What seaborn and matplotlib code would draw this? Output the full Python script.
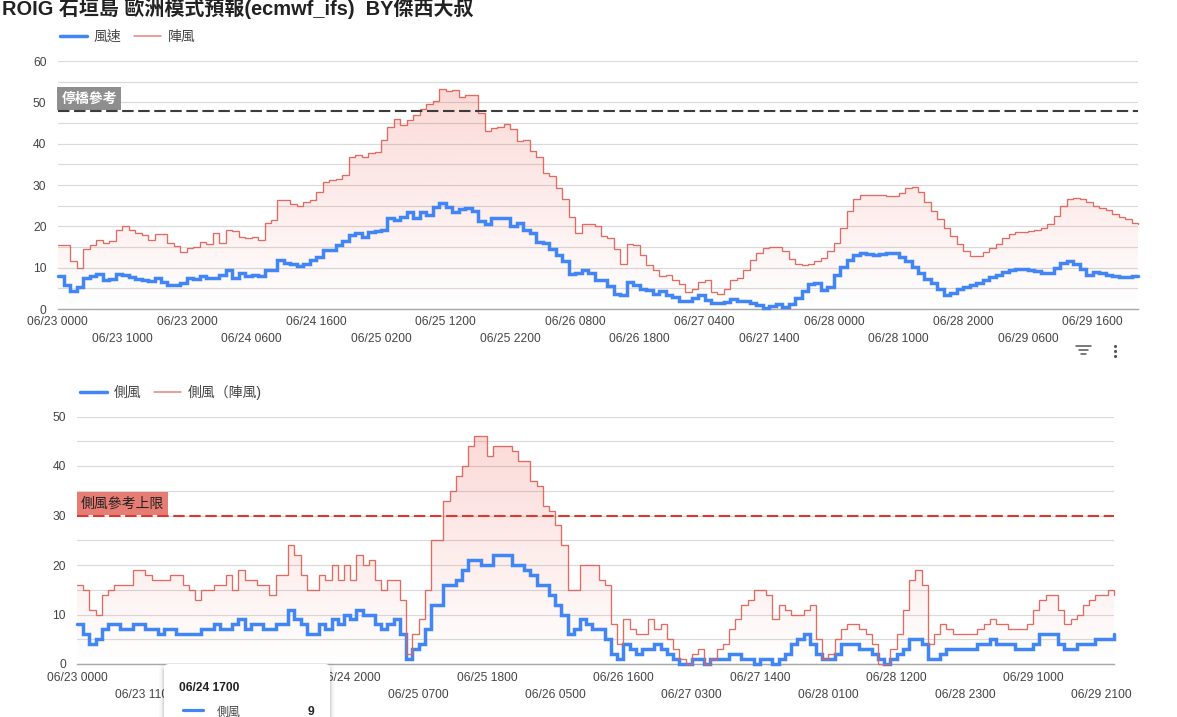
import numpy as np
import pandas as pd
import matplotlib
matplotlib.use("Agg")
import matplotlib.pyplot as plt
from matplotlib.lines import Line2D
from matplotlib.patches import FancyBboxPatch
import seaborn as sns

# Hourly forecast from 06/23 0000 to 06/29 2300
wind_speed = [
    7.9,5.9,4.3,5.3,7.5,8.1,8.4,7.1,7.3,8.4,
    8.2,7.7,7.3,6.9,6.7,7.5,6.5,5.8,5.8,6.3,
    7.4,7.3,7.9,7.5,7.5,8.2,9.5,7.4,8.7,8.1,
    8.2,8.0,9.4,9.4,11.8,11.1,11.0,10.3,10.9,11.8,
    12.7,14.2,14.2,15.4,16.4,18.0,18.5,17.5,18.6,18.8,
    19.2,21.9,21.6,22.2,23.4,22.0,23.5,22.7,24.6,25.6,
    24.6,23.5,24.1,24.4,23.7,21.3,20.6,21.9,21.9,21.9,
    20.2,20.7,19.0,18.4,16.3,16.0,14.4,13.0,11.5,8.5,
    8.7,9.4,8.7,7.1,6.9,5.5,3.7,3.5,6.5,5.7,
    4.8,4.5,3.6,4.3,3.5,3.0,2.0,2.0,2.6,3.4,
    2.1,1.5,1.5,1.7,2.3,1.9,1.9,1.5,1.0,0.3,
    0.8,1.1,0.6,1.2,2.7,4.3,6.0,6.2,4.5,5.3,
    8.2,10.2,11.9,13.1,13.5,13.2,13.0,13.2,13.5,13.5,
    12.7,11.5,10.2,8.6,7.3,6.3,4.8,3.5,3.9,4.9,
    5.3,5.9,6.4,6.9,7.7,8.2,9.0,9.4,9.7,9.7,
    9.5,9.1,8.8,8.7,9.8,11.1,11.6,10.8,9.7,8.3,
    9.0,8.7,8.2,8.0,7.8,7.8,8.0,8.0,
]
wind_gust = [
    15.5,15.5,11.5,10.0,14.5,15.5,16.8,16.0,16.5,19.0,
    20.0,19.2,18.5,18.0,16.8,18.2,18.2,16.0,15.2,13.8,
    14.8,15.0,16.2,15.8,18.3,16.0,19.0,18.8,17.4,17.2,
    17.4,16.8,20.8,21.5,26.3,26.3,25.5,25.0,25.8,26.3,
    28.2,30.7,31.2,31.4,32.5,36.8,37.2,36.8,37.8,38.0,
    41.0,44.0,46.0,44.5,45.8,47.0,48.5,49.6,50.3,53.2,
    52.7,52.9,51.2,51.7,51.7,47.4,43.0,43.8,44.0,44.7,
    43.6,40.7,41.0,38.3,36.8,32.9,32.2,29.3,26.5,22.2,
    18.4,20.6,20.6,20.2,17.6,17.2,14.4,11.0,15.7,15.6,
    13.1,10.6,9.5,8.0,8.3,6.9,6.1,4.2,4.8,6.5,
    7.0,4.2,3.6,4.8,7.0,7.4,9.4,11.8,13.5,14.8,
    15.1,15.1,14.0,12.2,11.0,10.6,10.8,11.5,12.3,14.0,
    16.0,19.5,23.6,26.7,27.7,27.7,27.6,27.5,27.3,27.3,
    28.0,29.3,29.5,28.2,26.0,23.8,21.7,19.5,17.6,15.7,
    14.0,12.9,12.9,13.7,14.7,15.8,17.2,18.1,18.6,18.7,
    18.9,19.1,19.5,20.5,22.5,25.0,26.7,26.9,26.5,26.0,
    25.0,24.4,23.9,23.0,22.3,21.7,20.8,20.5,
]
cross_wind = [
    8,6,4,5,7,8,8,7,7,8,
    8,7,7,6,7,7,6,6,6,6,
    7,7,8,7,7,8,9,7,8,8,
    7,7,8,8,11,9,8,6,6,8,
    7,9,8,10,9,11,10,10,8,7,
    8,9,6,1,3,4,7,12,12,16,
    16,17,19,21,21,20,20,22,22,22,
    20,20,19,18,16,16,14,12,10,6,
    7,9,8,7,7,5,2,1,4,3,
    2,3,3,4,3,2,1,0,0,1,
    1,0,1,1,1,2,2,1,1,0,
    1,1,0,1,2,4,5,6,4,2,
    1,1,2,4,4,4,3,3,2,1,
    0,1,2,3,5,5,4,1,1,2,
    3,3,3,3,3,4,4,5,4,4,
    4,3,3,3,4,6,6,6,4,3,
    3,4,4,4,5,5,5,6,
]
cross_gust = [
    16,15,11,10,14,15,16,16,16,19,
    19,18,17,17,17,18,18,16,15,13,
    15,15,16,16,18,15,19,17,17,16,
    16,14,18,18,24,22,18,15,15,18,
    17,20,17,20,17,22,20,21,17,15,
    17,17,13,2,6,9,15,25,25,33,
    35,38,40,44,46,46,42,44,44,44,
    43,41,41,37,36,32,31,28,24,15,
    15,20,20,20,17,16,8,4,9,7,
    6,6,9,7,8,5,3,1,0,2,
    3,0,1,3,4,7,9,12,13,15,
    15,14,9,12,11,10,10,11,12,5,
    1,2,5,7,8,8,7,6,4,0,
    0,3,6,11,17,19,16,4,6,8,
    7,6,6,6,6,7,8,9,8,8,
    7,7,7,8,11,13,14,14,11,8,
    9,10,12,13,14,14,15,14,
]
hours = np.arange(len(wind_speed))

top_tick_labels = [
    "06/23 0000", "06/23 1000", "06/23 2000", "06/24 0600", "06/24 1600", "06/25 0200",
    "06/25 1200", "06/25 2200", "06/26 0800", "06/26 1800", "06/27 0400", "06/27 1400",
    "06/28 0000", "06/28 1000", "06/28 2000", "06/29 0600", "06/29 1600",
]
bottom_tick_labels = [
    "06/23 0000", "06/23 1100", "06/23 2200", "06/24 0900", "06/24 2000", "06/25 0700",
    "06/25 1800", "06/26 0500", "06/26 1600", "06/27 0300", "06/27 1400", "06/28 0100",
    "06/28 1200", "06/28 2300", "06/29 1000", "06/29 2100",
]

BLUE = "#4285f4"
RED = "#e0645a"
W, H = 1177, 717

sns.set_theme(style="white")
plt.rcParams["font.family"] = ["Liberation Sans", "Noto Sans CJK TC"]

fig = plt.figure(figsize=(W / 100, H / 100), dpi=100, facecolor="white")


def panel_axes(left, right, top, bottom):
    return fig.add_axes([left / W, 1 - bottom / H, (right - left) / W, (bottom - top) / H])


def draw_panel(ax, speed, gust, names, ymax, tick_step, tick_labels, limit, limit_text,
               limit_color, box_color, text_color, text_weight, legend_xy, x_pad):
    frame = pd.DataFrame({"hour": hours, "speed": speed, "gust": gust})

    # Pink gradient under the gust curve, fading to white at zero
    area = ax.fill_between(hours, gust, 0, step="post", color="none", linewidth=0)
    top = max(gust)
    alpha = np.linspace(0.20, 0.0, 256)[:, None]
    rgba = np.zeros((256, 1, 4))
    rgba[..., 0], rgba[..., 1], rgba[..., 2] = 234 / 255, 67 / 255, 53 / 255
    rgba[..., 3] = alpha
    img = ax.imshow(rgba, extent=(0, hours[-1], 0, top), aspect="auto", origin="upper",
                    zorder=1.5, interpolation="bilinear")
    img.set_clip_path(area.get_paths()[0], ax.transData)

    sns.lineplot(data=frame, x="hour", y="speed", ax=ax, color=BLUE, linewidth=2.5,
                 drawstyle="steps-post", label=names[0], errorbar=None, zorder=3,
                 solid_joinstyle="miter", clip_on=False)
    sns.lineplot(data=frame, x="hour", y="gust", ax=ax, color=RED, linewidth=0.95,
                 drawstyle="steps-post", label=names[1], errorbar=None, zorder=3.2,
                 alpha=0.95, solid_joinstyle="miter", clip_on=False)

    ax.axhline(limit, color=limit_color, linewidth=1.5, dashes=(5.5, 2.2), zorder=3.5)
    ax.annotate(limit_text, xy=(0, limit), xytext=(4 * 0.72, 3.7), textcoords="offset points",
                ha="left", va="bottom", fontsize=10, color=text_color, fontweight=text_weight,
                bbox=dict(boxstyle="square,pad=0.3", facecolor=box_color, edgecolor="none"),
                zorder=3.3)

    ax.set_xlim(0, hours[-1])
    ax.set_ylim(0, ymax)
    ax.set_xlabel("")
    ax.set_ylabel("")
    ticks = np.arange(0, hours[-1] + 1, tick_step)
    ax.set_xticks(ticks)
    ax.set_xticklabels([t if i % 2 == 0 else "\n" + t for i, t in enumerate(tick_labels)],
                       fontsize=8.64, color="#444444", linespacing=1.55)
    yticks = np.arange(0, ymax + 1, 5)
    ax.set_yticks(yticks)
    ax.set_yticklabels([str(v) if v % 10 == 0 else "" for v in yticks],
                       fontsize=8.64, color="#444444")
    ax.tick_params(axis="x", length=0, pad=x_pad)
    ax.tick_params(axis="y", length=0, pad=8)
    ax.grid(axis="y", color="#dadada", linewidth=0.85, zorder=0)
    ax.grid(axis="x", visible=False)
    ax.set_axisbelow(True)
    for side in ("top", "right", "left"):
        ax.spines[side].set_visible(False)
    ax.spines["bottom"].set_color("#a8a8a8")
    ax.spines["bottom"].set_linewidth(1.0)

    handles, labels = ax.get_legend_handles_labels()
    handles = [Line2D([], [], color=BLUE, linewidth=2.5),
               Line2D([], [], color="#e8837b", linewidth=1.1)]
    ax.legend(handles, labels, loc="center left", frameon=False, ncol=2,
              bbox_to_anchor=(legend_xy[0] / W, 1 - legend_xy[1] / H),
              bbox_transform=fig.transFigure, fontsize=10, labelcolor="#444444",
              handlelength=1.95, handletextpad=0.5, columnspacing=0.85,
              borderpad=0, borderaxespad=0)


ax_top = panel_axes(57.5, 1138, 61, 309)
draw_panel(ax_top, wind_speed, wind_gust, ["風速", "陣風"], 60, 10, top_tick_labels,
           48, "停橋參考", "#3c3c3c", "#8e8e8e", "white", "bold", (60, 37), 5.0)

ax_bottom = panel_axes(77, 1114, 416.5, 664)
draw_panel(ax_bottom, cross_wind, cross_gust, ["側風", "側風（陣風)"], 50, 11, bottom_tick_labels,
           30, "側風參考上限", "#d93a30", "#e67c73", "#222222", "normal", (80, 392.5), 5.5)

# Overlay in pixel coordinates for the title, the menu icons and the hover card
overlay = fig.add_axes([0, 0, 1, 1], zorder=10)
overlay.set_xlim(0, W)
overlay.set_ylim(H, 0)
overlay.axis("off")
overlay.patch.set_alpha(0)

overlay.text(2, 15, "ROIG 石垣島 歐洲模式預報(ecmwf_ifs)  BY傑西大叔", fontsize=14.4,
             fontweight="bold", color="#222222", ha="left", va="baseline")

for y, x0, x1 in [(346, 1075.5, 1091), (349.7, 1078.5, 1088), (353.5, 1081, 1085.5)]:
    overlay.plot([x0, x1], [y, y], color="#555555", linewidth=1.1)
overlay.scatter([1115, 1115, 1115], [346, 351, 356], s=5, color="#555555", linewidths=0)

# Hover card with a soft shadow
for grow, shade in [(5, 0.02), (3.5, 0.03), (2, 0.05), (1, 0.06)]:
    overlay.add_patch(FancyBboxPatch((164 - grow, 668 - grow), 166 + 2 * grow, 70,
                                     boxstyle="round,pad=0,rounding_size=6", linewidth=0,
                                     facecolor="black", alpha=shade))
overlay.add_patch(FancyBboxPatch((164, 664), 166, 70, boxstyle="round,pad=0,rounding_size=5",
                                 linewidth=0, facecolor="white"))
overlay.text(179, 691, "06/24 1700", fontsize=8.64, fontweight="bold", color="#222222",
             ha="left", va="baseline")
overlay.plot([183, 203], [710, 710], color=BLUE, linewidth=2.3)
overlay.text(217, 716, "側風", fontsize=8.64, color="#444444", ha="left", va="baseline")
overlay.text(311, 715, "9", fontsize=8.64, fontweight="bold", color="#222222",
             ha="center", va="baseline")

fig.savefig("out.png", dpi=100, facecolor="white")
